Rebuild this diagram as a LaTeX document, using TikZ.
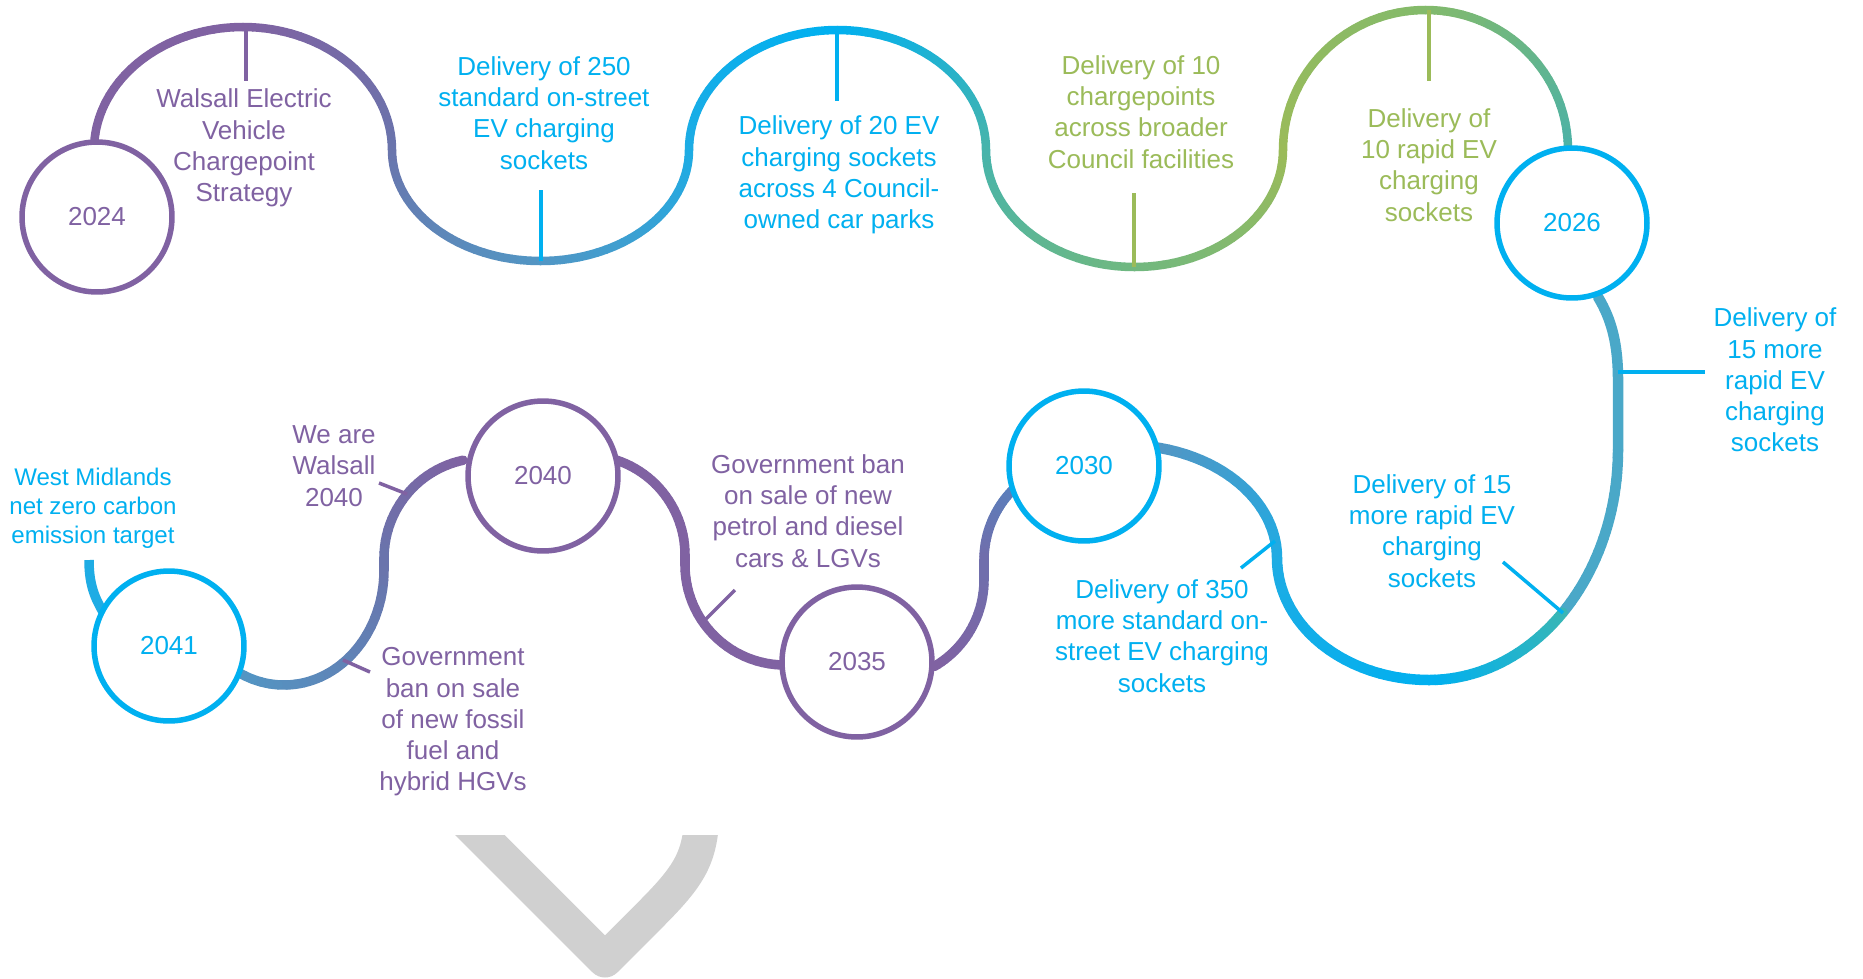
\documentclass[tikz,border=0pt]{standalone}
\usepackage{fontspec}
\setmainfont{Liberation Sans}
\usetikzlibrary{calc}
\definecolor{wpurple}{RGB}{128,98,162}
\definecolor{wblue}{RGB}{0,176,240}
\definecolor{wgreen}{RGB}{155,187,89}
\definecolor{wslate}{RGB}{106,116,172}
\definecolor{wsteel}{RGB}{82,150,196}
\definecolor{wsky}{RGB}{30,172,228}
\definecolor{wteal}{RGB}{70,180,172}
\definecolor{wsage}{RGB}{112,184,128}
\definecolor{wlime}{RGB}{132,186,106}
\definecolor{wsea}{RGB}{76,178,166}
\definecolor{wdusk}{RGB}{74,168,200}
\definecolor{wmint}{RGB}{58,182,180}
\definecolor{wcobalt}{RGB}{90,128,188}
\definecolor{wiris}{RGB}{112,110,172}
\definecolor{wchev}{RGB}{208,208,208}
% centre x, centre y, x radius, y radius, from, to, colour at start, colour at end
\newcommand\wavearc[8]{%
 \foreach \k in {1,...,24}{
  \pgfmathsetmacro\angA{(#5)+((#6)-(#5))*(\k-1)/24}
  \pgfmathsetmacro\angB{(#5)+((#6)-(#5))*\k/24}
  \pgfmathsetmacro\mixp{100*(\k-0.5)/24}
  \draw[wave,draw=#8!\mixp!#7]({#1+#3*cos(\angA)},{#2+#4*sin(\angA)})
   arc[start angle=\angA,end angle=\angB,x radius=#3,y radius=#4];}}

\begin{document}
\begin{tikzpicture}[x=0.02cm,y=-0.02cm,
 wave/.style={line width=0.17cm,line cap=round},
 yearring/.style={circle,draw=#1,text=#1,fill=white,line width=0.11cm,minimum size=3cm,inner sep=0pt,font=\fontsize{14.8}{17.8}\selectfont},
 note/.style={align=center,text=#1,inner sep=0pt,font=\fontsize{14.8}{17.8}\selectfont},
 tick/.style={draw=#1,line width=0.07cm},
 chevron/.style={draw=wchev,line width=0.7cm,line join=round}]
\useasboundingbox[fill=white](0,0)rectangle(1863,978);

\wavearc{243}{150}{149}{123}{180}{270}{wpurple}{wpurple}
\wavearc{243}{150}{149}{123}{270}{360}{wpurple}{wslate}
\wavearc{540.5}{150}{148.5}{111}{180}{90}{wslate}{wsteel}
\wavearc{540.5}{150}{148.5}{111}{90}{0}{wsteel}{wsky}
\wavearc{837.5}{150}{148.5}{120}{180}{270}{wsky}{wblue}
\wavearc{837.5}{150}{148.5}{120}{270}{360}{wblue}{wteal}
\wavearc{1134.5}{150}{148.5}{117}{180}{90}{wteal}{wsage}
\wavearc{1134.5}{150}{148.5}{117}{90}{0}{wsage}{wgreen}
\wavearc{1425.5}{150}{142.5}{140}{180}{270}{wgreen}{wlime}
\wavearc{1425.5}{150}{142.5}{140}{270}{360}{wlime}{wsea}

\begin{scope}[wave/.append style={line width=0.21cm}]
\draw[wave,wdusk](1598,297).. controls (1612,320) and (1618,345) ..(1618,380)--(1618,450);
\wavearc{1429}{450}{189}{230}{0}{45}{wdusk}{wdusk}
\wavearc{1429}{450}{189}{230}{45}{90}{wmint}{wblue}
\wavearc{1429}{558}{152}{122}{90}{180}{wblue}{wsky}
\wavearc{1125}{558}{152}{113}{0}{-80}{wsky}{wsteel}
\end{scope}

\begin{scope}[wave/.append style={line width=0.19cm}]
\wavearc{1084}{560}{100}{100}{-135}{-180}{wcobalt}{wiris}
\draw[wave,wiris](984,560)--(984,580);
\wavearc{884}{580}{100}{100}{0}{60}{wiris}{wpurple}
\wavearc{785}{565}{100}{100}{92}{180}{wpurple}{wpurple}
\draw[wave,wpurple](685,565)--(685,555);
\wavearc{585}{555}{100}{100}{0}{-72}{wpurple}{wpurple}
\wavearc{484}{558}{100}{100}{-102}{-180}{wpurple}{wslate}
\draw[wave,wslate](384,558)--(384,570);
\wavearc{284}{570}{100}{115}{0}{118}{wslate}{wsteel}
\draw[wave,wsky,line cap=butt](89,560).. controls (89,585) and (95,598) ..(103,612);
\end{scope}

\coordinate(tA)at(246,27);\coordinate(tAe)at(246,81);
\coordinate(tB)at(541,261);\coordinate(tBe)at(541,190);
\coordinate(tC)at(837,30);\coordinate(tCe)at(837,101);
\coordinate(tD)at(1134,267);\coordinate(tDe)at(1134,193);
\coordinate(tE)at(1429,10);\coordinate(tEe)at(1429,81);
\coordinate(tR)at(1618,372);\coordinate(tRe)at(1705,372);
\coordinate(tF)at(1563,613);\coordinate(tFe)at(1503,562);
\coordinate(tG)at(1275,541);\coordinate(tGe)at(1241,568);
\coordinate(tP)at(704,621);\coordinate(tPe)at(735,590);
\coordinate(tW)at(407,494);\coordinate(tWe)at(379,483);
\coordinate(tH)at(343,660);\coordinate(tHe)at(370,672);
\draw[tick=wpurple](tA)--(tAe);
\draw[tick=wblue](tB)--(tBe);
\draw[tick=wblue](tC)--(tCe);
\draw[tick=wgreen](tD)--(tDe);
\draw[tick=wgreen](tE)--(tEe);
\draw[tick=wblue](tR)--(tRe);
\draw[tick=wblue](tF)--(tFe);
\draw[tick=wblue](tG)--(tGe);
\draw[tick=wpurple](tP)--(tPe);
\draw[tick=wpurple](tW)--(tWe);
\draw[tick=wpurple](tH)--(tHe);

\node[yearring=wpurple](y2024)at(97,217){2024};
\node[yearring=wblue](y2026)at(1572,223){2026};
\node[yearring=wblue](y2030)at(1084,466){2030};
\node[yearring=wpurple](y2035)at(857,662){2035};
\node[yearring=wpurple](y2040)at(543,476){2040};
\node[yearring=wblue](y2041)at(169,646){2041};

\node[note=wpurple](lbl2024)at(244,148){Walsall Electric\\Vehicle\\Chargepoint\\Strategy};
\node[note=wblue](lbl250)at(544,113){Delivery of 250\\standard on-street\\EV charging\\sockets};
\node[note=wblue](lbl20)at(839,175){Delivery of 20 EV\\charging sockets\\across 4 Council-\\owned car parks};
\node[note=wgreen](lbl10)at(1141,112){Delivery of 10\\chargepoints\\across broader\\Council facilities};
\node[note=wgreen](lbl10r)at(1429,165){Delivery of\\10 rapid EV\\charging\\sockets};
\node[note=wblue](lbl15r)at(1775,380){Delivery of\\15 more\\rapid EV\\charging\\sockets};
\node[note=wblue](lbl15m)at(1432,531){Delivery of 15\\more rapid EV\\charging\\sockets};
\node[note=wblue](lbl350)at(1162,636){Delivery of 350\\more standard on-\\street EV charging\\sockets};
\node[note=wpurple](lblcars)at(808,511){Government ban\\on sale of new\\petrol and diesel\\cars \& LGVs};
\node[note=wpurple](lblwalsall)at(334,466){We are\\Walsall\\2040};
\node[note=wpurple](lblhgv)at(453,722){Government\\ban on sale\\of new fossil\\fuel and\\hybrid HGVs};
\node[note=wblue,font=\fontsize{13.7}{16.5}\selectfont](lblwm)at(93,508){West Midlands\\net zero carbon\\emission target};

\begin{scope}
\clip(400,835)rectangle(800,978);
\draw[chevron](462,817)--(605,960)--(650,915).. controls (690,875) and (700,858) ..(702,815);
\end{scope}
\end{tikzpicture}
\end{document}
